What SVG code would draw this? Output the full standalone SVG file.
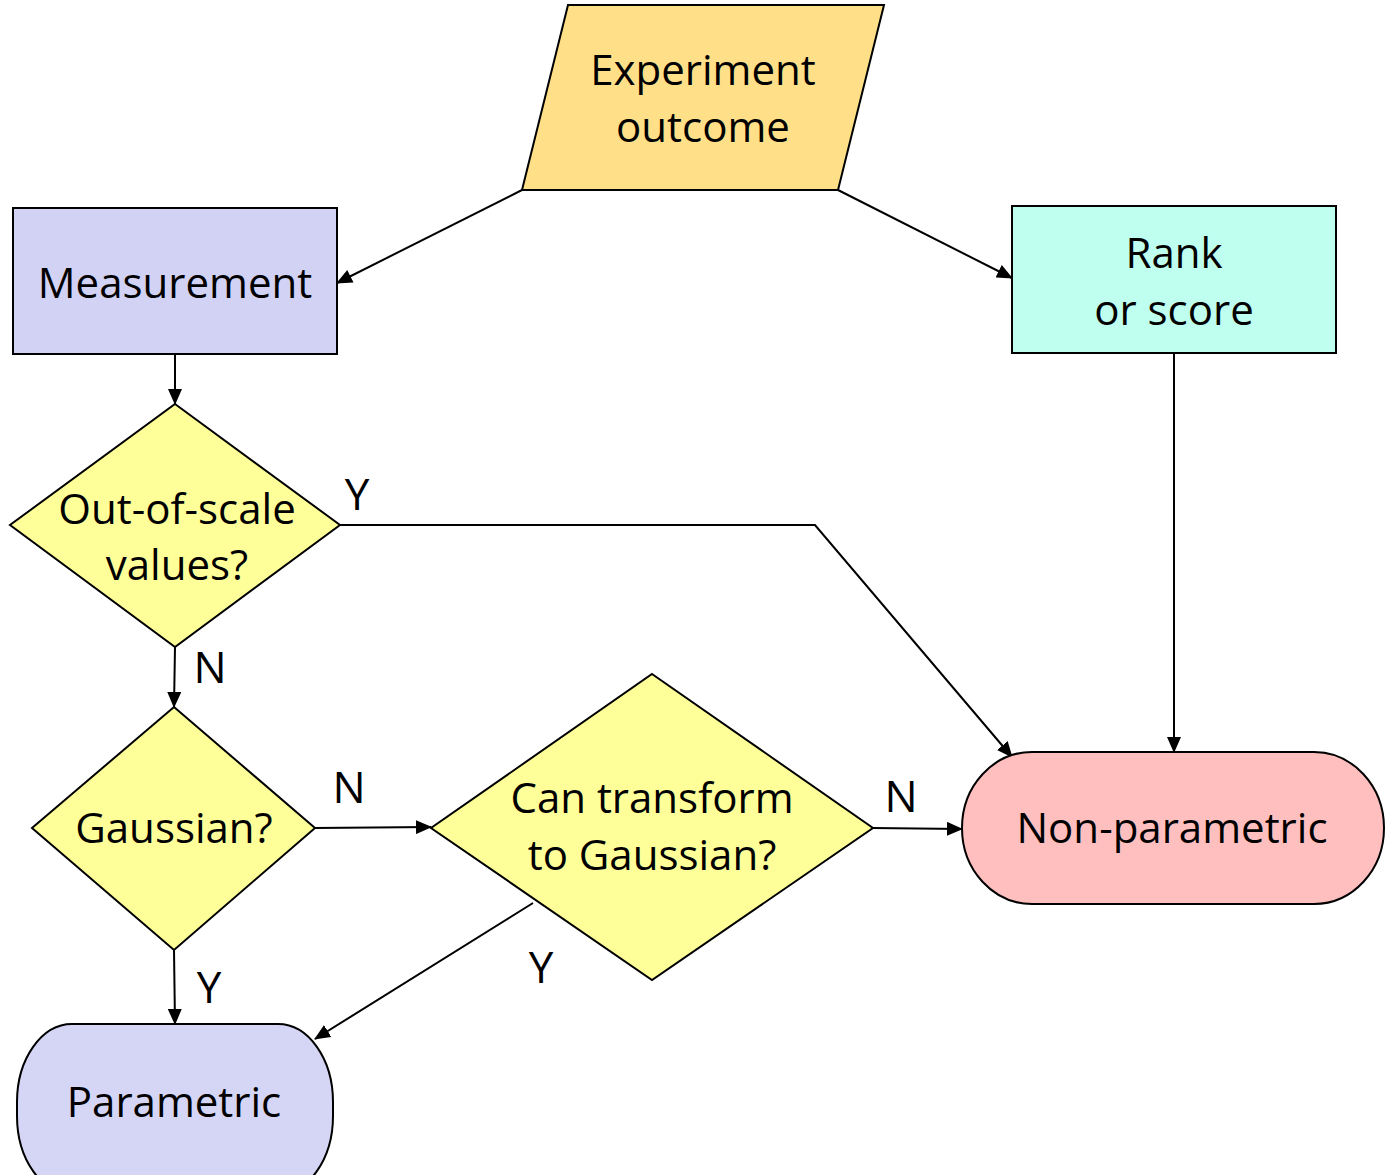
<svg xmlns="http://www.w3.org/2000/svg" width="1385" height="1175" viewBox="0 0 1385 1175">
<style>
.shape{stroke:#000;stroke-width:2}
.t{font-family:"Open Sans","Liberation Sans",sans-serif;font-size:42px;fill:#000;text-anchor:middle}
.lbl{font-family:"Open Sans","Liberation Sans",sans-serif;font-size:44px;fill:#000;text-anchor:middle}
.c{stroke:#000;stroke-width:2;fill:none;marker-end:url(#ah)}
</style>
<defs>
<marker id="ah" markerUnits="userSpaceOnUse" markerWidth="16" markerHeight="14" refX="15" refY="7" orient="auto">
<path d="M0,0 L16,7 L0,14 Z" fill="#000"/>
</marker>
</defs>
<g id="connectors">
<line class="c" x1="522" y1="190" x2="337" y2="283"/>
<line class="c" x1="838" y1="190" x2="1012" y2="278"/>
<line class="c" x1="175" y1="354" x2="175" y2="404"/>
<polyline class="c" points="340,525 815,525 1012,757"/>
<line class="c" x1="1174" y1="353" x2="1174" y2="752"/>
<line class="c" x1="175" y1="647" x2="174" y2="707"/>
<line class="c" x1="315" y1="828" x2="431" y2="827"/>
<line class="c" x1="873" y1="828" x2="962" y2="829"/>
<line class="c" x1="533" y1="903" x2="315" y2="1039"/>
<line class="c" x1="174" y1="950" x2="175" y2="1024"/>
<text class="lbl" x="357" y="510">Y</text>
<text class="lbl" x="210" y="683">N</text>
<text class="lbl" x="349" y="803">N</text>
<text class="lbl" x="901" y="812">N</text>
<text class="lbl" x="541" y="983">Y</text>
<text class="lbl" x="209" y="1003">Y</text>
</g>
<g id="experiment">
<polygon class="shape" points="568,5 884,5 838,190 522,190" fill="#FFDF88"/>
<text class="t" x="703" y="85">Experiment</text>
<text class="t" x="703" y="142">outcome</text>
</g>
<g id="measurement">
<rect class="shape" x="13" y="208" width="324" height="146" fill="#D2D2F5"/>
<text class="t" x="175" y="298">Measurement</text>
</g>
<g id="rank">
<rect class="shape" x="1012" y="206" width="324" height="147" fill="#BFFFEF"/>
<text class="t" x="1174" y="268">Rank</text>
<text class="t" x="1174" y="325">or score</text>
</g>
<g id="outofscale">
<polygon class="shape" points="175,404 340,525 175,647 10,525" fill="#FFFF99"/>
<text class="t" x="177" y="524">Out-of-scale</text>
<text class="t" x="177" y="580">values?</text>
</g>
<g id="gaussian">
<polygon class="shape" points="174,707 315,828 174,950 32,828" fill="#FFFF99"/>
<text class="t" x="174" y="843">Gaussian?</text>
</g>
<g id="transform">
<polygon class="shape" points="652,674 873,828 652,980 431,828" fill="#FFFF99"/>
<text class="t" x="652" y="813">Can transform</text>
<text class="t" x="652" y="870">to Gaussian?</text>
</g>
<g id="nonparametric">
<rect class="shape" x="962" y="752" width="422" height="152" rx="70" ry="76" fill="#FFBFBF"/>
<text class="t" x="1172" y="843">Non-parametric</text>
</g>
<g id="parametric">
<rect class="shape" x="17" y="1024" width="316" height="170" rx="55" ry="78" fill="#D5D5F5"/>
<text class="t" x="174" y="1117">Parametric</text>
</g>
</svg>
